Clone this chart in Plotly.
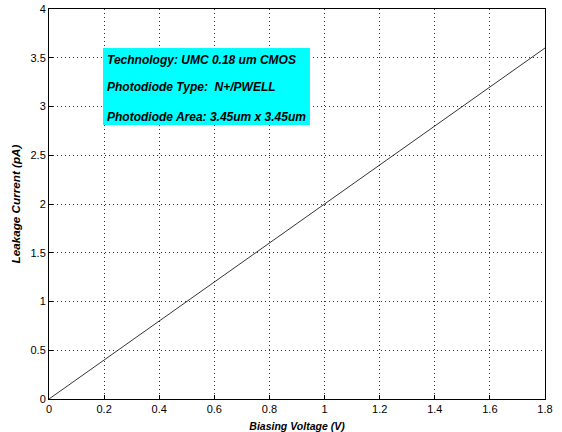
import plotly.graph_objects as go

voltage = [0.0, 1.8]
current = [0.0, 3.6]
x_ticks = [0, 0.2, 0.4, 0.6, 0.8, 1.0, 1.2, 1.4, 1.6, 1.8]
x_tick_labels = ["0", "0.2", "0.4", "0.6", "0.8", "1", "1.2", "1.4", "1.6", "1.8"]
y_ticks = [0, 0.5, 1, 1.5, 2, 2.5, 3, 3.5, 4]
y_tick_labels = ["0", "0.5", "1", "1.5", "2", "2.5", "3", "3.5", "4"]
info_lines = ["Technology: UMC 0.18 um CMOS",
              "Photodiode Type:  N+/PWELL",
              "Photodiode Area: 3.45um x 3.45um"]
info_y = [3.48, 3.2, 2.89]

fig = go.Figure()
fig.add_trace(go.Scatter(x=voltage, y=current, mode="lines",
                         line=dict(color="black", width=0.8), showlegend=False))

fig.add_shape(type="rect", xref="x", yref="y", x0=0.196, x1=0.947, y0=2.81, y1=3.6,
              fillcolor="#00ffff", line=dict(width=0), layer="above")
for txt, yy in zip(info_lines, info_y):
    fig.add_annotation(x=0.205, y=yy, xref="x", yref="y", text="<b><i>" + txt + "</i></b>",
                       showarrow=False, xanchor="left", yanchor="middle",
                       font=dict(family="Liberation Sans", size=12, color="black"))

axis_common = dict(showline=True, linecolor="black", linewidth=1, mirror=True,
                   ticks="inside", ticklen=4, tickcolor="black",
                   showgrid=True, gridcolor="#333333", griddash="1px,3px", gridwidth=1,
                   zeroline=False, automargin=False,
                   tickfont=dict(family="Liberation Sans", size=11, color="black"))

fig.update_xaxes(range=[0, 1.8], tickvals=x_ticks, ticktext=x_tick_labels,
                 title=dict(text="<b><i>Biasing Voltage (V)</i></b>", standoff=9,
                            font=dict(family="Liberation Sans", size=10.5, color="black")),
                 **axis_common)
fig.update_yaxes(range=[0, 4], tickvals=y_ticks, ticktext=y_tick_labels,
                 title=dict(text="<b><i>Leakage Current (pA)</i></b>", standoff=7,
                            font=dict(family="Liberation Sans", size=11.7, color="black")),
                 **axis_common)

fig.update_layout(width=562, height=432, margin=dict(l=49, r=17, t=9, b=33),
                  paper_bgcolor="white", plot_bgcolor="white")
fig.write_html("out.html", config={"displayModeBar": False},
               post_script="document.body.style.margin='0';")
